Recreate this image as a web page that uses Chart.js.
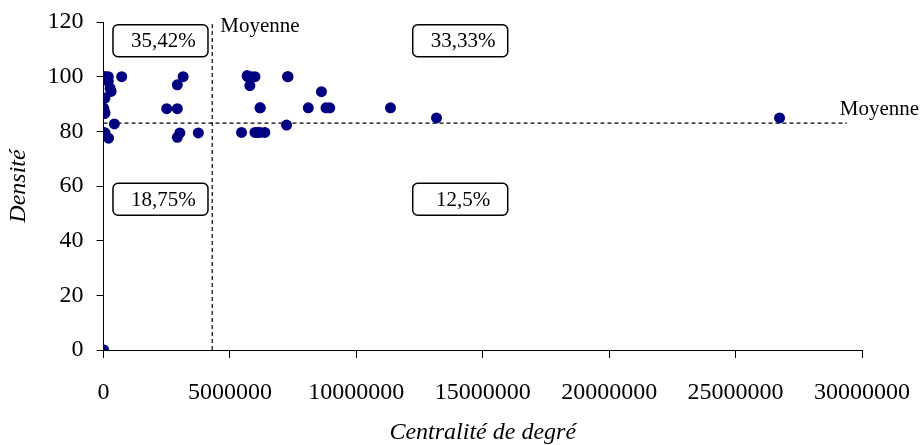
<!DOCTYPE html>
<html>
<head>
<meta charset="utf-8">
<script src="https://cdn.jsdelivr.net/npm/chart.js@4.4.0/dist/chart.umd.min.js"></script>
<style>
  body { margin: 0; background: #fff; }
</style>
</head>
<body>
<canvas id="chartDensite" width="923" height="445"></canvas>
<script>
// Centralité de degré (x) et densité (y) des points
const centralite = [
  20000, 0, 190000, 100000, 190000, 260000, 300000, 60000, 0, 20000, 60000, 30000,
  720000, 3150000, 2920000, 2500000, 2920000,
  430000, 60000, 20000, 200000, 3020000, 2920000, 3750000, 0, 0,
  5680000, 5990000, 5850000, 5790000, 7280000, 7300000, 8620000, 6190000, 6200000,
  8100000, 8800000, 8950000, 11350000, 13170000, 26740000, 5700000,
  5460000, 5990000, 6100000, 6190000, 6380000, 7240000
];
const densite = [
  100, 100, 100, 100, 98.3, 95.8, 94.6, 92.2, 88.5, 88, 86.7, 86.5,
  100, 100, 97, 88.3, 88.3,
  82.7, 79.4, 79.6, 77.5, 79.4, 77.8, 79.4, 0, 0,
  100.4, 100, 100, 96.7, 100, 100, 94.5, 88.6, 88.6,
  88.6, 88.6, 88.6, 88.6, 84.9, 84.9, 100,
  79.6, 79.6, 79.6, 79.6, 79.6, 82.3
];

// moyennes
const moyenneX = 4300000;
const moyenneY = 83;
const finLigneMoyenne = 29400000;

// pourcentages par quadrant
const pourcentages = ['35,42%', '33,33%', '18,75%', '12,5%'];

const xTicks = [0, 5000000, 10000000, 15000000, 20000000, 25000000, 30000000];
const yTicks = [0, 20, 40, 60, 80, 100, 120];

const points = centralite.map((x, i) => ({ x: x, y: densite[i] }));

const police = 'Liberation Serif';

// dessine les boites de pourcentage et les etiquettes "Moyenne"
const annotations = {
  id: 'annotations',
  afterDatasetsDraw(chart) {
    const ctx = chart.ctx;
    const xs = chart.scales.x;
    const ys = chart.scales.y;
    ctx.save();
    ctx.font = '21px "' + police + '"';
    ctx.fillStyle = '#000';
    ctx.textBaseline = 'alphabetic';
    ctx.textAlign = 'left';
    ctx.fillText('Moyenne', xs.getPixelForValue(moyenneX) + 8, ys.getPixelForValue(120) + 10);
    ctx.fillText('Moyenne', xs.getPixelForValue(finLigneMoyenne) - 7, ys.getPixelForValue(moyenneY) - 8);

    // coins des boites (en valeurs)
    const boites = [
      { x: 375000, y: 119 },
      { x: 12230000, y: 119 },
      { x: 375000, y: 61 },
      { x: 12230000, y: 61 }
    ];
    boites.forEach((b, i) => {
      const left = xs.getPixelForValue(b.x);
      const top = ys.getPixelForValue(b.y);
      const w = 95, h = 32;
      ctx.beginPath();
      ctx.roundRect(left, top, w, h, 5);
      ctx.fillStyle = '#fff';
      ctx.fill();
      ctx.lineWidth = 1.5;
      ctx.strokeStyle = '#000';
      ctx.stroke();
      ctx.fillStyle = '#000';
      ctx.textAlign = 'center';
      ctx.textBaseline = 'middle';
      ctx.fillText(pourcentages[i], left + w / 2 + 3, top + h / 2 + 1);
    });
    ctx.restore();
  }
};

const ctx = document.getElementById('chartDensite').getContext('2d');
new Chart(ctx, {
  type: 'scatter',
  data: {
    datasets: [
      {
        label: 'Points',
        data: points,
        backgroundColor: '#000080',
        borderColor: '#000080',
        pointRadius: 5.5,
        borderWidth: 0,
        order: 1
      },
      {
        label: 'Moyenne X',
        type: 'line',
        data: [{ x: moyenneX, y: 0 }, { x: moyenneX, y: 119.5 }],
        borderColor: '#000',
        borderWidth: 1.2,
        borderDash: [4, 3],
        pointRadius: 0,
        fill: false,
        order: 2
      },
      {
        label: 'Moyenne Y',
        type: 'line',
        data: [{ x: 0, y: moyenneY }, { x: finLigneMoyenne, y: moyenneY }],
        borderColor: '#000',
        borderWidth: 1.2,
        borderDash: [4, 3],
        pointRadius: 0,
        fill: false,
        order: 2
      }
    ]
  },
  options: {
    responsive: false,
    animation: false,
    layout: { padding: { left: 0, right: 61, top: 22, bottom: 0 } },
    plugins: {
      legend: { display: false },
      tooltip: { enabled: false }
    },
    scales: {
      x: {
        type: 'linear',
        min: 0,
        max: 30000000,
        afterBuildTicks: (scale) => { scale.ticks = xTicks.map((v) => ({ value: v })); },
        afterFit: (scale) => {
          scale.height = 95;
          scale.paddingLeft = 0;
          scale.paddingRight = 0;
        },
        border: { display: true, color: '#000', width: 1 },
        grid: { display: true, drawOnChartArea: false, drawTicks: true, tickLength: 8, color: '#000' },
        ticks: {
          color: '#000',
          padding: 20,
          font: { family: police, size: 24, lineHeight: 1.2 },
          callback: (v) => String(v)
        },
        title: {
          display: true,
          text: 'Centralité de degré',
          color: '#000',
          font: { family: police, size: 24, style: 'italic', lineHeight: 1 },
          padding: { top: 0, bottom: 0 }
        }
      },
      y: {
        type: 'linear',
        min: 0,
        max: 120,
        afterBuildTicks: (scale) => { scale.ticks = yTicks.map((v) => ({ value: v })); },
        afterFit: (scale) => {
          scale.width = 103.5;
          scale.paddingTop = 0;
          scale.paddingBottom = 0;
        },
        border: { display: true, color: '#000', width: 1 },
        grid: { display: true, drawOnChartArea: false, drawTicks: true, tickLength: 7, color: '#000' },
        ticks: {
          color: '#000',
          padding: 13,
          font: { family: police, size: 24 }
        },
        title: {
          display: true,
          text: 'Densité',
          color: '#000',
          font: { family: police, size: 24, style: 'italic', lineHeight: 1 },
          padding: { top: 7, bottom: 0 }
        }
      }
    }
  },
  plugins: [annotations]
});
</script>
</body>
</html>
